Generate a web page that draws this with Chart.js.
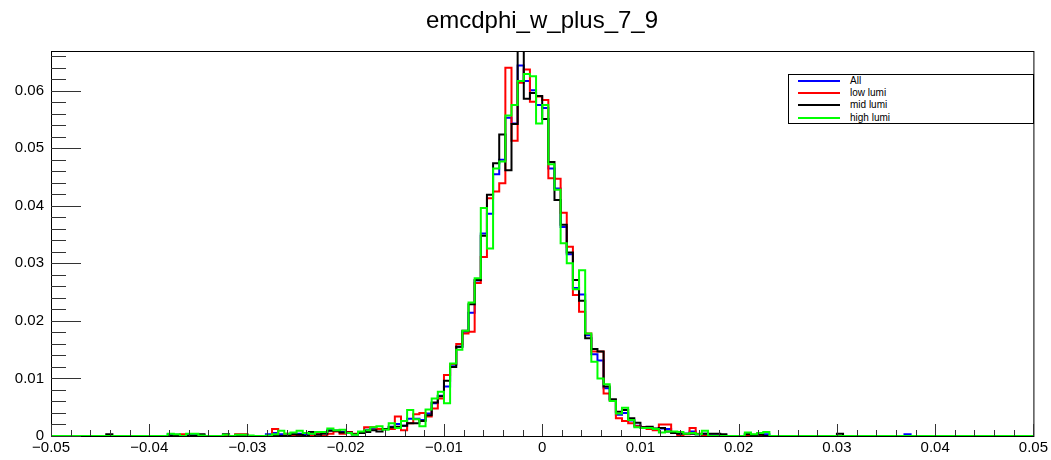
<!DOCTYPE html>
<html>
<head>
<meta charset="utf-8">
<script src="https://cdn.jsdelivr.net/npm/chart.js@4.4.0/dist/chart.umd.min.js"></script>
<style>
  html, body { margin: 0; padding: 0; background: #fff; }
  #wrap { position: relative; width: 1051px; height: 460px; font-family: "Liberation Sans", Arial, sans-serif; }
  #title { position: absolute; left: 0; top: 6px; width: 1084px; text-align: center; font-size: 24px; color: #000; }
  #legend { position: absolute; left: 788px; top: 74px; width: 244px; height: 48px; border: 1px solid #000; background: #fff; }
  .row { position: absolute; left: 0; height: 12px; width: 100%; }
  .swatch { position: absolute; left: 9px; top: 5px; width: 42px; height: 2px; }
  .label { position: absolute; left: 61px; top: 0; font-size: 10px; line-height: 12px; color: #000; }
</style>
</head>
<body>
<div id="wrap">
  <canvas id="histo" width="1051" height="460"></canvas>
  <div id="title">emcdphi_w_plus_7_9</div>
  <div id="legend"></div>
</div>
<script>
// binning of the histogram
const xMin = -0.05;
const xMax = 0.05;
const nBins = 160;
const yMax = 0.0669;

const xTickValues = [-0.05, -0.04, -0.03, -0.02, -0.01, 0, 0.01, 0.02, 0.03, 0.04, 0.05];
const xTickLabels = ['\u22120.05', '\u22120.04', '\u22120.03', '\u22120.02', '\u22120.01', '0', '0.01', '0.02', '0.03', '0.04', '0.05'];
const yTickValues = [0, 0.01, 0.02, 0.03, 0.04, 0.05, 0.06];
const yTickLabels = ['0', '0.01', '0.02', '0.03', '0.04', '0.05', '0.06'];

const seriesNames = ['All', 'low lumi', 'mid lumi', 'high lumi'];
const seriesColors = ['#0000ff', '#ff0000', '#000000', '#00ff00'];

// bin contents, 10 bins per row
const allLumi = [
  0, 0, 0, 0, 0, 0, 0, 0, 0, 0,
  0, 0, 0, 0, 0, 0, 0, 0, 0, 0.0003,
  0.0002, 0.0001, 0.0002, 0.0002, 0.0001, 0, 0, 0, 0.0001, 0,
  0.0002, 0.0002, 0, 0, 0, 0.0003, 0.0005, 0.0003, 0.0002, 0.0004,
  0.0004, 0.0002, 0.0004, 0.0004, 0.0005, 0.0010, 0.0009, 0.0007, 0.0006, 0.0003,
  0.0006, 0.0011, 0.0013, 0.0012, 0.0012, 0.0016, 0.0021, 0.0018, 0.0030, 0.0030,
  0.0028, 0.0039, 0.0057, 0.0070, 0.0086, 0.0124, 0.0155, 0.0181, 0.0214, 0.0270,
  0.0352, 0.0386, 0.0455, 0.0480, 0.0553, 0.0543, 0.0644, 0.0617, 0.0601, 0.0575,
  0.0570, 0.0465, 0.0430, 0.0363, 0.0316, 0.0257, 0.0246, 0.0175, 0.0142, 0.0131,
  0.0083, 0.0062, 0.0037, 0.0040, 0.0027, 0.0018, 0.0015, 0.0014, 0.0012, 0.0013,
  0.0012, 0.0006, 0.0004, 0.0004, 0.0008, 0.0003, 0.0004, 0.0001, 0.0001, 0.0001,
  0, 0, 0, 0.0003, 0.0001, 0.0002, 0.0003, 0, 0, 0,
  0, 0, 0, 0, 0, 0, 0, 0, 0, 0,
  0, 0, 0, 0, 0, 0, 0, 0, 0, 0.0003,
  0, 0, 0, 0, 0, 0, 0, 0, 0, 0,
  0, 0, 0, 0, 0, 0, 0, 0, 0, 0
];

const lowLumi = [
  0, 0, 0, 0, 0, 0, 0, 0, 0, 0,
  0, 0, 0, 0, 0, 0, 0, 0, 0, 0,
  0, 0.0003, 0, 0, 0, 0, 0, 0, 0, 0,
  0.0003, 0.0003, 0, 0, 0, 0, 0.0012, 0, 0.0004, 0,
  0, 0, 0, 0.0003, 0, 0.0004, 0.0008, 0.0004, 0.0007, 0.0004,
  0.0006, 0.0015, 0.0015, 0.0012, 0.0012, 0.0012, 0.0034, 0.0010, 0.0022, 0.0038,
  0.0040, 0.0034, 0.0048, 0.0065, 0.0106, 0.0125, 0.0160, 0.0178, 0.0181, 0.0266,
  0.0311, 0.0413, 0.0425, 0.0439, 0.0640, 0.0513, 0.0614, 0.0637, 0.0581, 0.0590,
  0.0584, 0.0448, 0.0447, 0.0388, 0.0329, 0.0245, 0.0216, 0.0178, 0.0147, 0.0147,
  0.0074, 0.0062, 0.0031, 0.0026, 0.0022, 0.0017, 0.0015, 0.0012, 0.0010, 0.0020,
  0.0020, 0.0006, 0, 0.0003, 0.0014, 0.0004, 0, 0, 0, 0,
  0, 0, 0, 0, 0.0002, 0, 0, 0, 0, 0,
  0, 0, 0, 0, 0, 0, 0, 0, 0, 0,
  0, 0, 0, 0, 0, 0, 0, 0, 0, 0,
  0, 0, 0, 0, 0, 0, 0, 0, 0, 0,
  0, 0, 0, 0, 0, 0, 0, 0, 0, 0
];

const midLumi = [
  0, 0, 0, 0, 0, 0, 0, 0, 0, 0.0003,
  0, 0, 0, 0, 0, 0, 0, 0, 0, 0,
  0, 0, 0, 0, 0.0003, 0, 0, 0, 0.0003, 0,
  0, 0.0001, 0, 0, 0, 0, 0.0001, 0, 0, 0.0003,
  0.0002, 0, 0.0007, 0.0002, 0.0004, 0.0009, 0.0009, 0.0006, 0.0006, 0.0003,
  0.0005, 0.0007, 0.0010, 0.0008, 0.0012, 0.0015, 0.0016, 0.0018, 0.0022, 0.0022,
  0.0026, 0.0036, 0.0058, 0.0069, 0.0096, 0.0120, 0.0155, 0.0183, 0.0229, 0.0271,
  0.0348, 0.0419, 0.0474, 0.0524, 0.0462, 0.0542, 0.0700, 0.0586, 0.0596, 0.0591,
  0.0551, 0.0476, 0.0410, 0.0367, 0.0319, 0.0271, 0.0235, 0.0170, 0.0151, 0.0147,
  0.0086, 0.0064, 0.0042, 0.0045, 0.0031, 0.0023, 0.0015, 0.0016, 0.0013, 0.0014,
  0.0008, 0.0005, 0.0004, 0.0004, 0.0004, 0.0003, 0.0004, 0.0004, 0.0004, 0.0003,
  0, 0, 0, 0.0003, 0, 0.0002, 0, 0, 0, 0,
  0, 0, 0, 0, 0, 0, 0, 0, 0.0004, 0,
  0, 0, 0, 0, 0, 0, 0, 0, 0, 0,
  0, 0, 0, 0, 0, 0, 0, 0, 0, 0,
  0, 0, 0, 0, 0, 0, 0, 0, 0, 0
];

const highLumi = [
  0, 0, 0, 0, 0, 0, 0, 0, 0, 0,
  0, 0, 0, 0, 0, 0, 0, 0, 0, 0.0004,
  0.0003, 0, 0.0004, 0.0004, 0.0001, 0, 0, 0, 0.0002, 0,
  0.0002, 0.0002, 0.0001, 0, 0, 0.0001, 0.0003, 0.0009, 0.0004, 0.0006,
  0.0009, 0.0005, 0.0004, 0.0007, 0.0007, 0.0013, 0.0010, 0.0011, 0.0005, 0.0002,
  0.0008, 0.0010, 0.0015, 0.0017, 0.0011, 0.0022, 0.0014, 0.0026, 0.0045, 0.0029,
  0.0017, 0.0046, 0.0065, 0.0077, 0.0057, 0.0126, 0.0150, 0.0183, 0.0232, 0.0274,
  0.0396, 0.0326, 0.0465, 0.0477, 0.0557, 0.0575, 0.0617, 0.0629, 0.0625, 0.0543,
  0.0575, 0.0472, 0.0428, 0.0335, 0.0300, 0.0255, 0.0288, 0.0178, 0.0129, 0.0100,
  0.0090, 0.0061, 0.0039, 0.0049, 0.0028, 0.0015, 0.0014, 0.0014, 0.0012, 0.0006,
  0.0008, 0.0008, 0.0007, 0.0004, 0.0005, 0.0003, 0.0009, 0, 0, 0,
  0, 0, 0, 0.0006, 0.0003, 0.0005, 0.0007, 0, 0, 0,
  0, 0, 0, 0, 0, 0, 0, 0, 0, 0,
  0, 0, 0, 0, 0, 0, 0, 0, 0, 0,
  0, 0, 0, 0, 0, 0, 0, 0, 0, 0,
  0, 0, 0, 0, 0, 0, 0, 0, 0, 0
];

const seriesValues = [allLumi, lowLumi, midLumi, highLumi];

// histogram outline: each bin gives its low and high edge at the bin height
function outline(values) {
  const w = (xMax - xMin) / nBins;
  const pts = [];
  values.forEach((v, i) => {
    pts.push({ x: xMin + i * w, y: v });
    pts.push({ x: xMin + (i + 1) * w, y: v });
  });
  return pts;
}

// ROOT style frame with inward ticks
const rootFrame = {
  id: 'rootFrame',
  afterDraw(chart) {
    const { ctx, chartArea: a, scales } = chart;
    ctx.save();
    ctx.strokeStyle = '#000';
    ctx.lineWidth = 1;
    ctx.strokeRect(a.left + 0.5, a.top + 0.5, a.right - a.left, a.bottom - a.top);
    ctx.strokeStyle = '#333';
    ctx.beginPath();
    for (let k = 0; k <= 50; k++) {
      const px = Math.round(scales.x.getPixelForValue(xMin + k * 0.002)) + 0.5;
      const len = k % 5 === 0 ? 12 : 6;
      ctx.moveTo(px, a.bottom);
      ctx.lineTo(px, a.bottom - len);
    }
    for (let k = 0; k * 0.002 <= yMax; k++) {
      const py = Math.round(scales.y.getPixelForValue(k * 0.002)) + 0.5;
      const len = k % 5 === 0 ? 30 : 15;
      ctx.moveTo(a.left, py);
      ctx.lineTo(a.left + len, py);
    }
    ctx.stroke();
    ctx.restore();
  }
};

const tickFont = { family: '"Liberation Sans", Arial, sans-serif', size: 15 };

new Chart(document.getElementById('histo'), {
  type: 'line',
  data: {
    datasets: seriesValues.map((vals, i) => ({
      label: seriesNames[i],
      data: outline(vals),
      borderColor: seriesColors[i],
      backgroundColor: seriesColors[i],
      borderWidth: 2,
      pointRadius: 0,
      tension: 0,
      fill: false,
      order: 4 - i
    }))
  },
  options: {
    responsive: false,
    animation: false,
    layout: { padding: { top: 51, right: 17, left: 0, bottom: 0 } },
    plugins: {
      legend: { display: false },
      tooltip: { enabled: false },
      title: { display: false }
    },
    scales: {
      x: {
        type: 'linear',
        min: xMin,
        max: xMax,
        grid: { display: false, drawTicks: false },
        border: { display: false },
        afterBuildTicks: (ax) => { ax.ticks = xTickValues.map(v => ({ value: v })); },
        afterFit: (ax) => { ax.height = 24; },
        ticks: {
          autoSkip: false,
          maxRotation: 0,
          padding: 3,
          color: '#000',
          font: tickFont,
          callback: (value, index) => xTickLabels[index]
        }
      },
      y: {
        type: 'linear',
        min: 0,
        max: yMax,
        grid: { display: false, drawTicks: false },
        border: { display: false },
        afterBuildTicks: (ax) => { ax.ticks = yTickValues.map(v => ({ value: v })); },
        afterFit: (ax) => { ax.width = 51; },
        ticks: {
          padding: 7,
          color: '#000',
          font: tickFont,
          callback: (value, index) => yTickLabels[index]
        }
      }
    }
  },
  plugins: [rootFrame]
});

// legend box
const legend = document.getElementById('legend');
seriesNames.forEach((name, i) => {
  const row = document.createElement('div');
  row.className = 'row';
  row.style.top = (0 + i * 12.2) + 'px';
  row.innerHTML = '<div class="swatch" style="background:' + seriesColors[i] + '"></div><div class="label">' + name + '</div>';
  legend.appendChild(row);
});
</script>
</body>
</html>
